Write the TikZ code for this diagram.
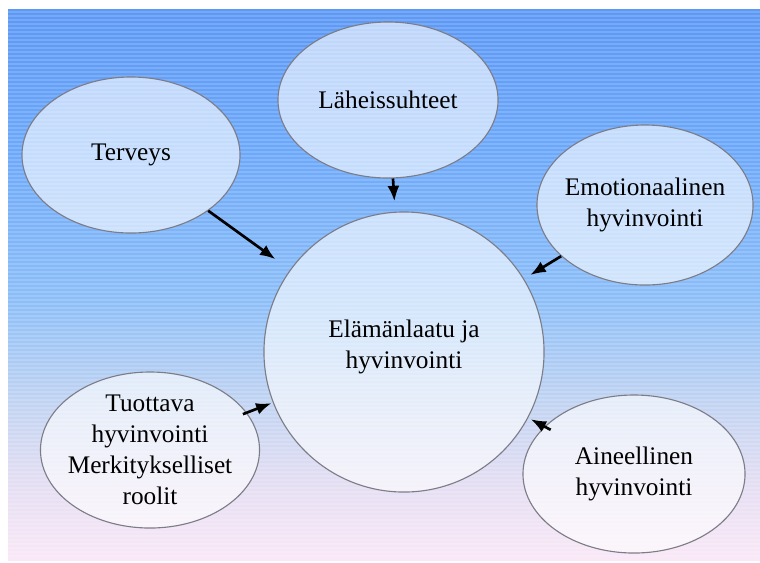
\documentclass[tikz,border=0pt]{standalone}
\usepackage{fontspec}
\setmainfont{Liberation Serif}
\usepackage{tikz}
\usetikzlibrary{shapes.geometric,arrows.meta}

\definecolor{bgtop}{RGB}{92,152,245}
\definecolor{bgsky}{RGB}{108,168,250}
\definecolor{bgmid}{RGB}{140,190,248}
\definecolor{bgpale}{RGB}{192,211,242}
\definecolor{bglav}{RGB}{228,222,243}
\definecolor{bgbot}{RGB}{250,232,246}
\definecolor{rimgray}{RGB}{125,125,135}

\pgfdeclareverticalshading{bgfade}{100bp}{color(0bp)=(bgbot); color(25bp)=(bgbot); color(32bp)=(bglav); color(39.5bp)=(bgpale); color(48.6bp)=(bgmid); color(62.2bp)=(bgsky); color(75bp)=(bgtop); color(100bp)=(bgtop)}

\begin{document}
\begin{tikzpicture}[x=0.025cm,y=-0.025cm,
    bubble/.style={ellipse,draw=rimgray,line width=0.8pt,fill=white,fill opacity=0.6,inner sep=0pt},
    txt/.style={align=center,font=\fontsize{18}{22}\selectfont},
    link/.style={-{Latex[length=11pt,width=8.5pt]},line width=1.9pt},
    stripe/.style={white,opacity=0.16,line width=1pt}]

	\useasboundingbox (0,0) rectangle (760,562);
	\shade[shading=bgfade] (8,9) rectangle (760,560);
	\foreach \y in {12,16,...,556}
		\draw[stripe] (8,\y) -- (760,\y);

	\node[bubble,minimum width=5.45cm,minimum height=3.9cm] (terveys) at (131,155) {};
	\node[bubble,minimum width=5.5cm,minimum height=3.9cm] (lahe) at (388,100) {};
	\node[bubble,minimum width=5.4cm,minimum height=4cm] (emo) at (645,205) {};
	\node[bubble,minimum width=7cm,minimum height=7cm] (elama) at (404,352) {};
	\node[bubble,minimum width=5.475cm,minimum height=3.9cm] (tuot) at (150,450) {};
	\node[bubble,minimum width=5.55cm,minimum height=3.95cm] (aine) at (634,474) {};

	\node[txt] (terveys-t) at (terveys) {Terveys};
	\node[txt] (lahe-t) at (lahe) {Läheissuhteet};
	\node[txt] (emo-t) at (emo) {Emotionaalinen\\hyvinvointi};
	\node[txt] (elama-t) at (404,347) {Elämänlaatu ja\\hyvinvointi};
	\node[txt] (tuot-t) at (tuot) {Tuottava\\hyvinvointi\\Merkitykselliset\\roolit};
	\node[txt] (aine-t) at (aine) {Aineellinen\\hyvinvointi};

	\draw[link,shorten >=12.8pt] (terveys) -- (elama);
	\draw[link,shorten >=7.4pt] (lahe) -- (elama);
	\draw[link,shorten >=5.2pt] (emo) -- (elama);
	\draw[link,shorten >=1pt,shorten <=-3pt] (tuot) -- (elama);
	\draw[link,shorten >=2pt,shorten <=-5pt] (aine) -- (elama);

\end{tikzpicture}
\end{document}
